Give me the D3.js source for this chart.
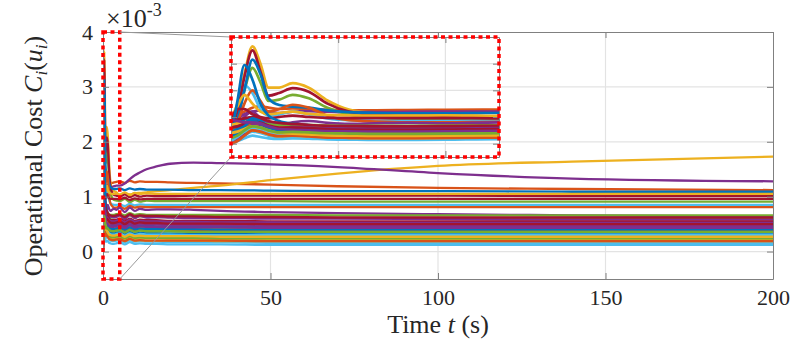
<!DOCTYPE html>
<meta charset="utf-8">
<style>
body { margin: 0; background: #fff; }
text { font-family: "Liberation Serif", "DejaVu Serif", serif; fill: #262626; }
.grid line { stroke: #e3e3e3; stroke-width: 1.2; }
.axis path, .axis line { stroke: #808080; stroke-width: 1; }
.axis text { font-size: 22px; fill: #262626; }
.series { fill: none; stroke-linejoin: round; stroke-linecap: round; }
</style>
<svg width="797" height="341"></svg>
<script src="https://d3js.org/d3.v7.min.js"></script>
<script>

// time samples (s)
var timeSteps = [0, 0.12, 0.25, 0.4, 0.55, 0.7, 0.9, 1.15, 1.45, 1.8, 2.2, 2.7, 3.3, 4, 5,
                 6.5, 8, 9.5, 11, 13, 16, 20, 27, 35, 50, 70, 100, 140, 200];

var xTicks = [0, 50, 100, 150, 200];
var yTicks = [0, 1, 2, 3, 4];
var insetXTicks = [0, 2, 4];
var insetYTicks = [0, 1, 2, 3];

// matlab default colour order
var lineColors = ["#0072BD", "#D95319", "#EDB120", "#7E2F8E", "#77AC30", "#4DBEEE", "#A2142F"];

// operational cost C_i(u_i) of each agent, in units of 1e-3
var costSeries = [
  [0.3, 0.5, 0.7, 0.8, 0.65, 0.5, 0.45, 0.48, 0.45, 0.4, 0.38, 0.37, 0.38, 0.39, 0.4, 0.36, 0.41, 0.37, 0.39, 0.38, 0.38, 0.37, 0.37, 0.36, 0.36, 0.35, 0.35, 0.35, 0.35],
  [1.05, 1.1, 1.2, 1.35, 1.4, 1.35, 1.3, 1.32, 1.3, 1.27, 1.25, 1.25, 1.26, 1.27, 1.28, 1.25, 1.29, 1.26, 1.28, 1.27, 1.27, 1.26, 1.25, 1.24, 1.22, 1.19, 1.16, 1.14, 1.12],
  [0.95, 1.5, 2.6, 3.65, 3.0, 2.1, 2.1, 2.27, 2.1, 1.62, 1.28, 1.15, 1.1, 1.08, 1.02, 1.05, 1.04, 1.06, 1.07, 1.08, 1.1, 1.12, 1.16, 1.2, 1.3, 1.42, 1.56, 1.64, 1.73],
  [0.85, 0.95, 1.1, 1.2, 1.25, 1.2, 1.15, 1.2, 1.22, 1.2, 1.18, 1.18, 1.19, 1.2, 1.2, 1.24, 1.32, 1.39, 1.44, 1.5, 1.55, 1.6, 1.62, 1.61, 1.59, 1.54, 1.43, 1.33, 1.28],
  [0.6, 1.0, 2.0, 2.84, 2.3, 1.6, 1.65, 1.83, 1.7, 1.35, 1.1, 0.98, 0.94, 0.93, 0.92, 0.96, 0.9, 0.94, 0.91, 0.93, 0.92, 0.92, 0.92, 0.92, 0.92, 0.91, 0.91, 0.91, 0.91],
  [0.4, 1.3, 2.2, 1.9, 1.3, 1.05, 1.1, 1.2, 1.1, 0.95, 0.88, 0.86, 0.85, 0.85, 0.86, 0.83, 0.87, 0.84, 0.86, 0.85, 0.85, 0.85, 0.85, 0.85, 0.85, 0.85, 0.85, 0.85, 0.85],
  [0.7, 1.2, 2.5, 3.5, 2.7, 1.8, 1.9, 2.08, 1.95, 1.5, 1.2, 1.08, 1.03, 1.02, 1.0, 1.04, 0.99, 1.03, 1.0, 1.02, 1.01, 1.01, 1.02, 1.02, 1.02, 1.02, 1.02, 1.01, 1.01],
  [0.5, 0.9, 2.0, 3.15, 2.6, 1.7, 1.45, 1.39, 1.35, 1.25, 1.18, 1.15, 1.14, 1.14, 1.15, 1.12, 1.15, 1.13, 1.14, 1.13, 1.13, 1.13, 1.12, 1.12, 1.11, 1.1, 1.1, 1.09, 1.09],
  [0.45, 0.8, 1.5, 2.0, 1.6, 1.2, 1.3, 1.46, 1.35, 1.05, 0.88, 0.83, 0.8, 0.8, 0.82, 0.78, 0.83, 0.8, 0.82, 0.81, 0.81, 0.81, 0.81, 0.81, 0.81, 0.81, 0.81, 0.81, 0.81],
  [0.8, 1.4, 1.83, 1.5, 1.2, 1.1, 1.15, 1.2, 1.12, 1.08, 1.06, 1.05, 1.05, 1.06, 1.04, 1.08, 1.03, 1.07, 1.05, 1.06, 1.05, 1.05, 1.05, 1.05, 1.05, 1.05, 1.05, 1.05, 1.05],
  [0.2, 0.6, 1.0, 1.2, 0.95, 0.75, 0.7, 0.8, 0.85, 0.78, 0.74, 0.76, 0.78, 0.76, 0.8, 0.72, 0.8, 0.74, 0.78, 0.76, 0.77, 0.77, 0.76, 0.74, 0.72, 0.7, 0.68, 0.66, 0.64],
  [0.55, 0.6, 0.7, 0.75, 0.7, 0.65, 0.62, 0.66, 0.68, 0.64, 0.62, 0.62, 0.63, 0.64, 0.66, 0.61, 0.66, 0.62, 0.64, 0.63, 0.63, 0.63, 0.62, 0.62, 0.62, 0.61, 0.61, 0.6, 0.6],
  [0.05, 0.1, 0.2, 0.3, 0.25, 0.2, 0.18, 0.2, 0.19, 0.16, 0.15, 0.14, 0.14, 0.15, 0.17, 0.13, 0.17, 0.14, 0.15, 0.14, 0.14, 0.13, 0.13, 0.13, 0.12, 0.12, 0.12, 0.12, 0.12],
  [0.9, 1.3, 1.3, 1.1, 1.0, 0.95, 1.0, 1.05, 1.0, 0.97, 0.96, 0.96, 0.96, 0.96, 0.95, 0.98, 0.94, 0.97, 0.95, 0.96, 0.96, 0.96, 0.96, 0.96, 0.96, 0.96, 0.96, 0.96, 0.96],
  [0.3, 1.6, 2.95, 2.4, 1.5, 1.05, 0.85, 0.75, 0.7, 0.62, 0.55, 0.52, 0.5, 0.52, 0.54, 0.5, 0.54, 0.5, 0.53, 0.51, 0.52, 0.52, 0.52, 0.51, 0.51, 0.5, 0.5, 0.49, 0.49],
  [0.1, 0.2, 0.4, 0.55, 0.5, 0.4, 0.35, 0.4, 0.38, 0.32, 0.3, 0.29, 0.28, 0.29, 0.31, 0.27, 0.31, 0.28, 0.3, 0.29, 0.28, 0.28, 0.27, 0.27, 0.27, 0.26, 0.26, 0.26, 0.26],
  [0.02, 0.15, 0.45, 0.6, 0.5, 0.35, 0.3, 0.33, 0.3, 0.27, 0.25, 0.24, 0.23, 0.25, 0.27, 0.22, 0.27, 0.23, 0.25, 0.24, 0.24, 0.23, 0.23, 0.22, 0.22, 0.22, 0.22, 0.22, 0.22],
  [0.35, 0.45, 0.6, 0.8, 0.9, 0.8, 0.7, 0.72, 0.7, 0.66, 0.64, 0.63, 0.62, 0.63, 0.66, 0.59, 0.67, 0.61, 0.65, 0.62, 0.63, 0.62, 0.61, 0.61, 0.6, 0.6, 0.59, 0.58, 0.58],
  [0.15, 0.3, 0.5, 0.7, 0.65, 0.5, 0.45, 0.5, 0.48, 0.44, 0.43, 0.42, 0.42, 0.43, 0.44, 0.41, 0.45, 0.42, 0.43, 0.42, 0.42, 0.42, 0.42, 0.42, 0.41, 0.41, 0.41, 0.41, 0.41],
  [0.0, 0.1, 0.3, 0.45, 0.4, 0.3, 0.25, 0.28, 0.27, 0.22, 0.2, 0.19, 0.19, 0.2, 0.21, 0.17, 0.21, 0.18, 0.19, 0.18, 0.18, 0.17, 0.17, 0.17, 0.16, 0.16, 0.16, 0.16, 0.16],
  [0.4, 0.6, 0.8, 0.9, 0.8, 0.7, 0.65, 0.68, 0.66, 0.6, 0.58, 0.57, 0.57, 0.58, 0.6, 0.55, 0.6, 0.56, 0.58, 0.57, 0.57, 0.56, 0.56, 0.56, 0.55, 0.55, 0.55, 0.55, 0.55],
  [0.6, 0.7, 0.9, 1.0, 0.85, 0.7, 0.6, 0.55, 0.52, 0.5, 0.48, 0.47, 0.47, 0.48, 0.49, 0.45, 0.5, 0.46, 0.48, 0.47, 0.46, 0.46, 0.45, 0.45, 0.45, 0.44, 0.44, 0.44, 0.44],
  [0.25, 0.35, 0.5, 0.65, 0.6, 0.5, 0.42, 0.45, 0.42, 0.36, 0.33, 0.32, 0.31, 0.32, 0.34, 0.3, 0.34, 0.31, 0.32, 0.31, 0.31, 0.3, 0.3, 0.3, 0.29, 0.29, 0.29, 0.29, 0.29],
  [0.7, 0.75, 0.8, 0.85, 0.8, 0.7, 0.62, 0.6, 0.58, 0.55, 0.53, 0.52, 0.52, 0.53, 0.54, 0.5, 0.55, 0.51, 0.53, 0.52, 0.52, 0.51, 0.51, 0.51, 0.5, 0.5, 0.5, 0.5, 0.5],
  [0.1, 0.3, 0.6, 0.75, 0.7, 0.6, 0.55, 0.58, 0.56, 0.52, 0.5, 0.49, 0.49, 0.5, 0.52, 0.47, 0.52, 0.48, 0.5, 0.49, 0.49, 0.48, 0.48, 0.48, 0.47, 0.47, 0.47, 0.47, 0.47],
  [0.5, 0.6, 0.75, 0.85, 0.8, 0.72, 0.7, 0.72, 0.7, 0.68, 0.67, 0.67, 0.67, 0.68, 0.69, 0.66, 0.7, 0.67, 0.68, 0.67, 0.67, 0.67, 0.67, 0.67, 0.67, 0.66, 0.66, 0.66, 0.66],
  [0.2, 0.3, 0.45, 0.6, 0.55, 0.45, 0.4, 0.42, 0.4, 0.36, 0.35, 0.34, 0.34, 0.35, 0.36, 0.32, 0.37, 0.33, 0.35, 0.34, 0.34, 0.34, 0.34, 0.33, 0.33, 0.33, 0.33, 0.33, 0.33],
  [0.85, 0.9, 0.95, 1.0, 0.95, 0.85, 0.78, 0.74, 0.7, 0.67, 0.66, 0.65, 0.65, 0.66, 0.67, 0.63, 0.68, 0.64, 0.66, 0.65, 0.65, 0.64, 0.64, 0.63, 0.63, 0.62, 0.62, 0.62, 0.62],
  [0.45, 0.55, 0.75, 0.95, 0.85, 0.65, 0.5, 0.45, 0.42, 0.38, 0.35, 0.34, 0.33, 0.34, 0.35, 0.31, 0.36, 0.32, 0.34, 0.33, 0.33, 0.32, 0.32, 0.32, 0.31, 0.31, 0.31, 0.31, 0.31],
  [0.3, 0.4, 0.6, 0.8, 0.75, 0.6, 0.55, 0.58, 0.55, 0.48, 0.44, 0.42, 0.41, 0.42, 0.43, 0.39, 0.43, 0.4, 0.41, 0.4, 0.4, 0.39, 0.39, 0.39, 0.38, 0.38, 0.38, 0.38, 0.38],
  [0.15, 0.2, 0.35, 0.5, 0.45, 0.35, 0.28, 0.3, 0.28, 0.24, 0.22, 0.21, 0.21, 0.22, 0.23, 0.19, 0.23, 0.2, 0.21, 0.2, 0.2, 0.2, 0.2, 0.19, 0.19, 0.19, 0.19, 0.19, 0.19],
  [0.05, 0.15, 0.35, 0.55, 0.65, 0.6, 0.58, 0.62, 0.6, 0.57, 0.56, 0.55, 0.55, 0.56, 0.58, 0.53, 0.58, 0.54, 0.56, 0.55, 0.55, 0.54, 0.54, 0.53, 0.53, 0.52, 0.52, 0.52, 0.52],
  [0.3, 0.35, 0.45, 0.55, 0.5, 0.4, 0.33, 0.34, 0.32, 0.28, 0.27, 0.26, 0.26, 0.27, 0.28, 0.24, 0.28, 0.25, 0.26, 0.25, 0.25, 0.25, 0.25, 0.24, 0.24, 0.24, 0.24, 0.24, 0.24],
  [0.1, 0.25, 0.45, 0.6, 0.5, 0.4, 0.36, 0.38, 0.36, 0.33, 0.32, 0.31, 0.31, 0.32, 0.33, 0.29, 0.33, 0.3, 0.32, 0.31, 0.31, 0.31, 0.3, 0.3, 0.3, 0.3, 0.3, 0.3, 0.3],
  [0.6, 0.65, 0.75, 0.82, 0.78, 0.68, 0.6, 0.6, 0.58, 0.55, 0.53, 0.52, 0.52, 0.53, 0.55, 0.5, 0.55, 0.51, 0.53, 0.52, 0.52, 0.51, 0.51, 0.51, 0.5, 0.5, 0.5, 0.5, 0.5],
  [0.25, 0.4, 0.65, 0.85, 0.75, 0.6, 0.5, 0.5, 0.48, 0.44, 0.42, 0.41, 0.41, 0.42, 0.43, 0.4, 0.44, 0.41, 0.42, 0.41, 0.41, 0.41, 0.41, 0.4, 0.4, 0.4, 0.4, 0.4, 0.4],
  [0.0, 0.1, 0.3, 0.5, 0.45, 0.35, 0.28, 0.3, 0.27, 0.23, 0.22, 0.21, 0.21, 0.22, 0.23, 0.19, 0.23, 0.2, 0.21, 0.2, 0.2, 0.2, 0.2, 0.2, 0.19, 0.19, 0.19, 0.19, 0.19],
  [0.4, 0.45, 0.55, 0.65, 0.6, 0.5, 0.4, 0.38, 0.35, 0.31, 0.3, 0.29, 0.29, 0.3, 0.31, 0.27, 0.31, 0.28, 0.29, 0.28, 0.28, 0.28, 0.28, 0.27, 0.27, 0.27, 0.27, 0.27, 0.27],
  [0.9, 0.85, 0.8, 0.8, 0.75, 0.65, 0.55, 0.52, 0.5, 0.47, 0.46, 0.45, 0.45, 0.46, 0.48, 0.43, 0.48, 0.44, 0.46, 0.45, 0.45, 0.44, 0.44, 0.44, 0.43, 0.43, 0.43, 0.43, 0.43],
  [0.2, 0.3, 0.5, 0.65, 0.6, 0.5, 0.42, 0.44, 0.42, 0.39, 0.38, 0.37, 0.37, 0.38, 0.39, 0.35, 0.39, 0.36, 0.38, 0.37, 0.37, 0.37, 0.36, 0.36, 0.36, 0.36, 0.36, 0.36, 0.36]
];

var svg = d3.select("svg");

// main axes
var x = d3.scaleLinear().domain([0, 200]).range([103, 773]);
var y = d3.scaleLinear().domain([-0.5, 4]).range([279, 32]);

// zoomed window
var zoomT = [0, 5];
var xi = d3.scaleLinear().domain(zoomT).range([231, 499]);
var yi = d3.scaleLinear().domain([-0.5, 4]).range([157, 37]);

var defs = svg.append("defs");
defs.append("clipPath").attr("id", "clipMain")
  .append("rect").attr("x", 103).attr("y", 32).attr("width", 670).attr("height", 247);
defs.append("clipPath").attr("id", "clipInset")
  .append("rect").attr("x", 231).attr("y", 37).attr("width", 268).attr("height", 120);

function drawPanel(g, sx, sy, xt, yt, clipId, lw) {
  var x0 = sx.range()[0], x1 = sx.range()[1], y0 = sy.range()[1], y1 = sy.range()[0];

  g.append("rect").attr("x", x0).attr("y", y0).attr("width", x1 - x0).attr("height", y1 - y0)
    .attr("fill", "#fff");

  var grid = g.append("g").attr("class", "grid");
  grid.selectAll(".gx").data(xt.filter(function(d) { return d > sx.domain()[0] && d < sx.domain()[1]; }))
    .enter().append("line")
      .attr("x1", function(d) { return sx(d); }).attr("x2", function(d) { return sx(d); })
      .attr("y1", y0).attr("y2", y1);
  grid.selectAll(".gy").data(yt.filter(function(d) { return d > sy.domain()[0] && d < sy.domain()[1]; }))
    .enter().append("line")
      .attr("y1", function(d) { return sy(d); }).attr("y2", function(d) { return sy(d); })
      .attr("x1", x0).attr("x2", x1);

  var line = d3.line()
    .x(function(d) { return sx(d[0]); })
    .y(function(d) { return sy(d[1]); })
    .curve(d3.curveMonotoneX);

  g.append("g").attr("clip-path", "url(#" + clipId + ")")
    .selectAll("path")
    .data(costSeries)
    .enter().append("path")
      .attr("class", "series")
      .attr("stroke", function(d, i) { return lineColors[i % lineColors.length]; })
      .attr("stroke-width", lw)
      .attr("d", function(row) {
        var pts = timeSteps.map(function(t, k) { return [t, row[k]]; })
          .filter(function(p) { return p[0] <= sx.domain()[1] + 1.5; });
        return line(pts);
      });
}

var mainG = svg.append("g");
drawPanel(mainG, x, y, xTicks, yTicks, "clipMain", 2.3);

// box with inward ticks on all four sides
function addAxes(g, sx, sy, xt, yt, labels) {
  var x0 = sx.range()[0], x1 = sx.range()[1], y0 = sy.range()[1], y1 = sy.range()[0];
  var bottom = d3.axisBottom(sx).tickValues(xt).tickSize(-6).tickSizeOuter(0).tickPadding(10)
    .tickFormat(labels ? d3.format("d") : "");
  var left = d3.axisLeft(sy).tickValues(yt).tickSize(-6).tickSizeOuter(0).tickPadding(10)
    .tickFormat(labels ? d3.format("d") : "");
  g.append("g").attr("class", "axis").attr("transform", "translate(0," + y1 + ")").call(bottom);
  g.append("g").attr("class", "axis").attr("transform", "translate(" + x0 + ",0)").call(left);
  g.append("g").attr("class", "axis").attr("transform", "translate(0," + y0 + ")")
    .call(d3.axisTop(sx).tickValues(xt).tickSize(-6).tickSizeOuter(0).tickFormat(""));
  g.append("g").attr("class", "axis").attr("transform", "translate(" + x1 + ",0)")
    .call(d3.axisRight(sy).tickValues(yt).tickSize(-6).tickSizeOuter(0).tickFormat(""));
  g.selectAll(".tick line").attr("stroke", "#555");
}
addAxes(mainG, x, y, xTicks, yTicks, true);

// red dotted box marking the zoomed window
var dotted = { stroke: "#ff0000", width: 3.5, dash: "4,3.5" };
mainG.append("rect")
  .attr("x", x(zoomT[0])).attr("y", y(4))
  .attr("width", x(zoomT[1]) - x(zoomT[0])).attr("height", y(-0.5) - y(4))
  .attr("fill", "none").attr("stroke", dotted.stroke)
  .attr("stroke-width", dotted.width).attr("stroke-dasharray", dotted.dash);

// connector lines
svg.append("line").attr("x1", x(zoomT[1])).attr("y1", y(4)).attr("x2", xi(0)).attr("y2", yi(4))
  .attr("stroke", "#999").attr("stroke-width", 1);
svg.append("line").attr("x1", x(zoomT[1])).attr("y1", y(-0.5)).attr("x2", xi(0)).attr("y2", yi(-0.5))
  .attr("stroke", "#999").attr("stroke-width", 1);

// inset
var insetG = svg.append("g");
drawPanel(insetG, xi, yi, insetXTicks, insetYTicks, "clipInset", 2.7);
addAxes(insetG, xi, yi, insetXTicks, insetYTicks, false);
insetG.append("rect")
  .attr("x", xi(0)).attr("y", yi(4))
  .attr("width", xi(5) - xi(0)).attr("height", yi(-0.5) - yi(4))
  .attr("fill", "none").attr("stroke", dotted.stroke)
  .attr("stroke-width", dotted.width).attr("stroke-dasharray", dotted.dash);

// exponent
var expo = svg.append("text").attr("x", 106).attr("y", 27).style("font-size", "26px");
expo.append("tspan").text("\u00d710");
expo.append("tspan").attr("dy", -11).style("font-size", "18px").text("-3");

// axis labels
var xl = svg.append("text").attr("x", 438).attr("y", 333).attr("text-anchor", "middle").style("font-size", "26px");
xl.append("tspan").text("Time ");
xl.append("tspan").style("font-style", "italic").text("t");
xl.append("tspan").text(" (s)");

var yl = svg.append("text").attr("transform", "translate(42,156) rotate(-90)")
  .attr("text-anchor", "middle").style("font-size", "26px");
yl.append("tspan").text("Operational Cost ");
yl.append("tspan").style("font-style", "italic").text("C");
yl.append("tspan").attr("dy", 5).style("font-size", "17px").style("font-style", "italic").text("i");
yl.append("tspan").attr("dy", -5).text("(");
yl.append("tspan").style("font-style", "italic").text("u");
yl.append("tspan").attr("dy", 5).style("font-size", "17px").style("font-style", "italic").text("i");
yl.append("tspan").attr("dy", -5).text(")");

</script>
